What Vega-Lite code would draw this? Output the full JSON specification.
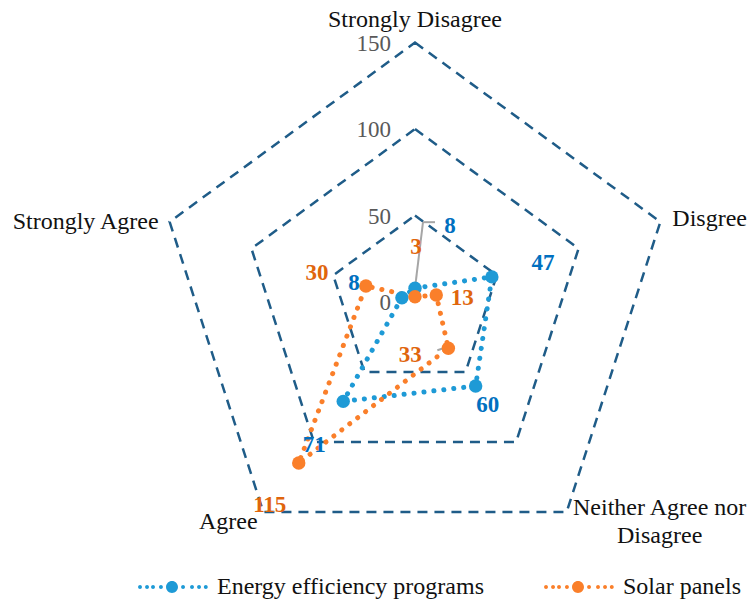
{
  "$schema": "https://vega.github.io/schema/vega-lite/v6.json",
  "width": 750,
  "height": 601,
  "autosize": {"type": "none"},
  "padding": 0,
  "config": {"view": {"stroke": null}, "font": "Liberation Serif"},
  "datasets": {
    "pts": [
      {"series": "Energy efficiency programs", "cat": "Strongly Disagree", "idx": 0, "value": 8},
      {"series": "Energy efficiency programs", "cat": "Disgree", "idx": 1, "value": 47},
      {"series": "Energy efficiency programs", "cat": "Neither Agree nor Disagree", "idx": 2, "value": 60},
      {"series": "Energy efficiency programs", "cat": "Agree", "idx": 3, "value": 71},
      {"series": "Energy efficiency programs", "cat": "Strongly Agree", "idx": 4, "value": 8},
      {"series": "Solar panels", "cat": "Strongly Disagree", "idx": 0, "value": 3},
      {"series": "Solar panels", "cat": "Disgree", "idx": 1, "value": 13},
      {"series": "Solar panels", "cat": "Neither Agree nor Disagree", "idx": 2, "value": 33},
      {"series": "Solar panels", "cat": "Agree", "idx": 3, "value": 115},
      {"series": "Solar panels", "cat": "Strongly Agree", "idx": 4, "value": 30}
    ],
    "grid": [
      {"level": 50, "idx": 0, "cat": "Strongly Disagree"},
      {"level": 50, "idx": 1, "cat": "Disgree"},
      {"level": 50, "idx": 2, "cat": "Neither Agree nor\nDisagree"},
      {"level": 50, "idx": 3, "cat": "Agree"},
      {"level": 50, "idx": 4, "cat": "Strongly Agree"},
      {"level": 100, "idx": 0, "cat": "Strongly Disagree"},
      {"level": 100, "idx": 1, "cat": "Disgree"},
      {"level": 100, "idx": 2, "cat": "Neither Agree nor\nDisagree"},
      {"level": 100, "idx": 3, "cat": "Agree"},
      {"level": 100, "idx": 4, "cat": "Strongly Agree"},
      {"level": 150, "idx": 0, "cat": "Strongly Disagree"},
      {"level": 150, "idx": 1, "cat": "Disgree"},
      {"level": 150, "idx": 2, "cat": "Neither Agree nor\nDisagree"},
      {"level": 150, "idx": 3, "cat": "Agree"},
      {"level": 150, "idx": 4, "cat": "Strongly Agree"}
    ],
    "ticks": [{"level": 0}, {"level": 50}, {"level": 100}, {"level": 150}]
  },
  "encoding": {
    "x": {"field": "px", "type": "quantitative", "axis": null, "scale": {"domain": [-241.28, 194.77], "nice": false, "zero": false}},
    "y": {"field": "py", "type": "quantitative", "axis": null, "scale": {"domain": [-172.83, 174.57], "nice": false, "zero": false}}
  },
  "layer": [
    {
      "data": {"name": "grid"},
      "transform": [
        {"calculate": "datum.level * sin(datum.idx * 2 * PI / 5)", "as": "px"},
        {"calculate": "datum.level * cos(datum.idx * 2 * PI / 5)", "as": "py"}
      ],
      "layer": [
        {
          "mark": {"type": "line", "interpolate": "linear-closed", "stroke": "#1F5C88", "strokeWidth": 2.5, "strokeDash": [10, 7]},
          "encoding": {"detail": {"field": "level"}, "order": {"field": "idx"}}
        },
        {
          "transform": [{"filter": "datum.level == 150 && datum.idx == 0"}],
          "mark": {"type": "text", "fontSize": 24, "color": "#111111", "align": "center", "baseline": "middle", "dy": -23},
          "encoding": {"text": {"field": "cat"}}
        },
        {
          "transform": [{"filter": "datum.level == 150 && datum.idx == 1"}],
          "mark": {"type": "text", "fontSize": 24, "color": "#111111", "align": "left", "baseline": "middle", "dx": 12, "dy": -3},
          "encoding": {"text": {"field": "cat"}}
        },
        {
          "transform": [{"filter": "datum.level == 150 && datum.idx == 2"}],
          "mark": {"type": "text", "fontSize": 24, "color": "#111111", "align": "center", "baseline": "top", "dx": 93, "dy": -16, "lineBreak": "\n", "lineHeight": 28},
          "encoding": {"text": {"field": "cat"}}
        },
        {
          "transform": [{"filter": "datum.level == 150 && datum.idx == 3"}],
          "mark": {"type": "text", "fontSize": 24, "color": "#111111", "align": "center", "baseline": "middle", "dx": -35, "dy": 10},
          "encoding": {"text": {"field": "cat"}}
        },
        {
          "transform": [{"filter": "datum.level == 150 && datum.idx == 4"}],
          "mark": {"type": "text", "fontSize": 24, "color": "#111111", "align": "right", "baseline": "middle", "dx": -11, "dy": 0},
          "encoding": {"text": {"field": "cat"}}
        }
      ]
    },
    {
      "data": {"name": "ticks"},
      "transform": [
        {"calculate": "0", "as": "px"},
        {"calculate": "datum.level", "as": "py"}
      ],
      "mark": {"type": "text", "fontSize": 23, "color": "#595959", "align": "right", "baseline": "middle", "dx": -24, "dy": 1},
      "encoding": {"text": {"field": "level"}}
    },
    {
      "data": {"name": "pts"},
      "transform": [
        {"calculate": "datum.value * sin(datum.idx * 2 * PI / 5)", "as": "px"},
        {"calculate": "datum.value * cos(datum.idx * 2 * PI / 5)", "as": "py"}
      ],
      "layer": [
        {
          "transform": [{"filter": "datum.series == 'Energy efficiency programs'"}],
          "mark": {"type": "line", "interpolate": "linear-closed", "stroke": "#1E9AD6", "strokeWidth": 5, "strokeCap": "round", "strokeDash": [0.1, 9.9]},
          "encoding": {"order": {"field": "idx"}}
        },
        {
          "transform": [{"filter": "datum.series == 'Solar panels'"}],
          "mark": {"type": "line", "interpolate": "linear-closed", "stroke": "#FA7F2A", "strokeWidth": 5, "strokeCap": "round", "strokeDash": [0.1, 9.9]},
          "encoding": {"order": {"field": "idx"}}
        },
        {
          "transform": [{"filter": "datum.series == 'Energy efficiency programs' && datum.idx == 0"}],
          "mark": {"type": "rule", "color": "#A6A6A6", "strokeWidth": 2, "x2Offset": 8, "y2Offset": -66},
          "encoding": {"x2": {"field": "px"}, "y2": {"field": "py"}}
        },
        {
          "transform": [{"filter": "datum.series == 'Energy efficiency programs' && datum.idx == 0"}],
          "mark": {"type": "rule", "color": "#A6A6A6", "strokeWidth": 2, "xOffset": 8, "yOffset": -66, "x2Offset": 20, "y2Offset": -66},
          "encoding": {"x2": {"field": "px"}, "y2": {"field": "py"}}
        },
        {
          "transform": [{"filter": "datum.series == 'Solar panels' && datum.idx == 2"}],
          "mark": {"type": "rule", "color": "#A6A6A6", "strokeWidth": 2, "xOffset": -11, "yOffset": 2, "x2Offset": -2, "y2Offset": -1},
          "encoding": {"x2": {"field": "px"}, "y2": {"field": "py"}}
        },
        {
          "mark": {"type": "circle", "size": 180, "opacity": 1},
          "encoding": {
            "fill": {"field": "series", "type": "nominal", "scale": {"domain": ["Energy efficiency programs", "Solar panels"], "range": ["#1E9AD6", "#FA7F2A"]},
              "legend": {
                "title": null, "orient": "none", "legendX": 159, "legendY": 574, "direction": "horizontal",
                "symbolType": "M-2.61,0a0.15,0.15 0 1,0 0.3,0a0.15,0.15 0 1,0 -0.3,0ZM-2.07,0a0.15,0.15 0 1,0 0.3,0a0.15,0.15 0 1,0 -0.3,0ZM-1.61,0a0.15,0.15 0 1,0 0.3,0a0.15,0.15 0 1,0 -0.3,0ZM-1.0,0a0.15,0.15 0 1,0 0.3,0a0.15,0.15 0 1,0 -0.3,0ZM0.7,0a0.15,0.15 0 1,0 0.3,0a0.15,0.15 0 1,0 -0.3,0ZM1.39,0a0.15,0.15 0 1,0 0.3,0a0.15,0.15 0 1,0 -0.3,0ZM1.93,0a0.15,0.15 0 1,0 0.3,0a0.15,0.15 0 1,0 -0.3,0ZM2.45,0a0.15,0.15 0 1,0 0.3,0a0.15,0.15 0 1,0 -0.3,0ZM-0.46,0a0.46,0.46 0 1,0 0.92,0a0.46,0.46 0 1,0 -0.92,0Z",
                "symbolSize": 676, "symbolStrokeWidth": 0, "symbolOpacity": 1,
                "labelFont": "Liberation Serif", "labelFontSize": 24, "labelColor": "#111111", "labelOffset": 32, "columnPadding": 59, "labelLimit": 400
              }
            }
          }
        },
        {
          "transform": [{"filter": "datum.series == 'Energy efficiency programs' && datum.idx == 0"}],
          "mark": {"type": "text", "fontSize": 23, "fontWeight": "bold", "color": "#0070C0", "align": "center", "baseline": "middle", "dx": 35, "dy": -62},
          "encoding": {"text": {"field": "value"}}
        },
        {
          "transform": [{"filter": "datum.series == 'Energy efficiency programs' && datum.idx == 1"}],
          "mark": {"type": "text", "fontSize": 23, "fontWeight": "bold", "color": "#0070C0", "align": "center", "baseline": "middle", "dx": 51, "dy": -14},
          "encoding": {"text": {"field": "value"}}
        },
        {
          "transform": [{"filter": "datum.series == 'Energy efficiency programs' && datum.idx == 2"}],
          "mark": {"type": "text", "fontSize": 23, "fontWeight": "bold", "color": "#0070C0", "align": "center", "baseline": "middle", "dx": 12, "dy": 19},
          "encoding": {"text": {"field": "value"}}
        },
        {
          "transform": [{"filter": "datum.series == 'Energy efficiency programs' && datum.idx == 3"}],
          "mark": {"type": "text", "fontSize": 23, "fontWeight": "bold", "color": "#0070C0", "align": "center", "baseline": "middle", "dx": -29, "dy": 44},
          "encoding": {"text": {"field": "value"}}
        },
        {
          "transform": [{"filter": "datum.series == 'Energy efficiency programs' && datum.idx == 4"}],
          "mark": {"type": "text", "fontSize": 23, "fontWeight": "bold", "color": "#0070C0", "align": "center", "baseline": "middle", "dx": -48, "dy": -15},
          "encoding": {"text": {"field": "value"}}
        },
        {
          "transform": [{"filter": "datum.series == 'Solar panels' && datum.idx == 0"}],
          "mark": {"type": "text", "fontSize": 23, "fontWeight": "bold", "color": "#E0650C", "align": "center", "baseline": "middle", "dx": 1, "dy": -50},
          "encoding": {"text": {"field": "value"}}
        },
        {
          "transform": [{"filter": "datum.series == 'Solar panels' && datum.idx == 1"}],
          "mark": {"type": "text", "fontSize": 23, "fontWeight": "bold", "color": "#E0650C", "align": "center", "baseline": "middle", "dx": 26, "dy": 3},
          "encoding": {"text": {"field": "value"}}
        },
        {
          "transform": [{"filter": "datum.series == 'Solar panels' && datum.idx == 2"}],
          "mark": {"type": "text", "fontSize": 23, "fontWeight": "bold", "color": "#E0650C", "align": "center", "baseline": "middle", "dx": -38, "dy": 7},
          "encoding": {"text": {"field": "value"}}
        },
        {
          "transform": [{"filter": "datum.series == 'Solar panels' && datum.idx == 3"}],
          "mark": {"type": "text", "fontSize": 23, "fontWeight": "bold", "color": "#E0650C", "align": "center", "baseline": "middle", "dx": -29, "dy": 42},
          "encoding": {"text": {"field": "value"}}
        },
        {
          "transform": [{"filter": "datum.series == 'Solar panels' && datum.idx == 4"}],
          "mark": {"type": "text", "fontSize": 23, "fontWeight": "bold", "color": "#E0650C", "align": "center", "baseline": "middle", "dx": -49, "dy": -13},
          "encoding": {"text": {"field": "value"}}
        }
      ]
    }
  ]
}
